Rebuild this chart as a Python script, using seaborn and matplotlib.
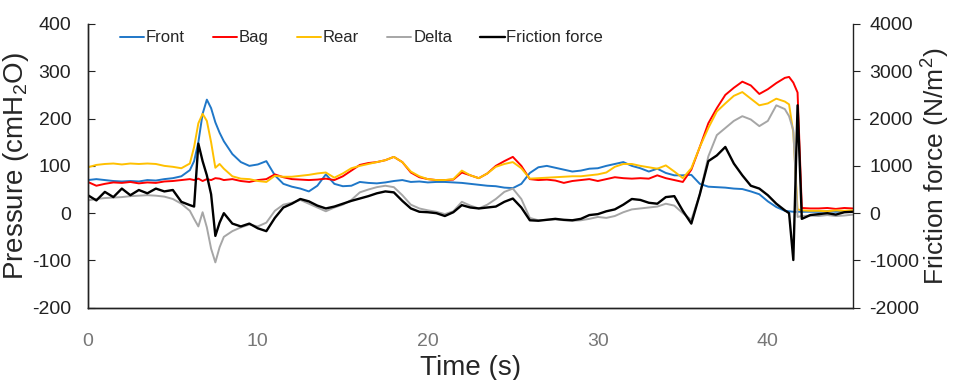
import numpy as np
import pandas as pd
import matplotlib
matplotlib.use("Agg")
import matplotlib.pyplot as plt
import seaborn as sns

# sample times (s)
time_s = list(np.r_[np.arange(0, 6.01, 0.5), np.arange(6.25, 7.8, 0.25),
                    np.arange(8, 41.01, 0.5), [41.25, 41.5, 41.75],
                    np.arange(42, 45.01, 0.5)])

front = [70, 72, 70, 68, 67, 68, 67, 70, 69, 72, 74, 78, 91,
         110, 150, 210, 240, 222, 192, 170,
         152, 125, 108, 100, 103, 110, 80, 62, 56, 52, 46, 58, 82, 62, 57, 58, 66, 64, 63, 65,
         68, 70, 66, 67, 65, 66, 66, 65, 64, 62, 60, 58, 57, 54, 53, 62, 85, 97, 100, 96,
         92, 88, 90, 94, 95, 100, 104, 108, 100, 95, 88, 94, 85, 80, 80, 81, 62, 56, 55, 54,
         52, 51, 46, 40, 25, 13, 5,
         4, 3, 3,
         3, 3, 3, 4, 3, 4, 5]

bag = [66, 58, 62, 65, 64, 66, 63, 65, 64, 67, 68, 70, 72,
       70, 73, 68, 72, 70, 74, 73,
       70, 72, 68, 66, 70, 72, 82, 76, 72, 71, 70, 71, 73, 70, 78, 90, 102, 106, 108, 112,
       119, 108, 86, 76, 72, 70, 70, 71, 86, 80, 74, 84, 100, 110, 119, 100, 72, 70, 71, 69,
       64, 68, 70, 72, 68, 72, 76, 74, 73, 74, 73, 80, 74, 70, 66, 92, 140, 190, 222, 250,
       265, 278, 270, 252, 262, 275, 286,
       288, 276, 255,
       11, 10, 10, 11, 9, 11, 10]

rear = [97, 102, 104, 105, 103, 105, 104, 105, 104, 100, 98, 95, 105,
        140, 190, 210, 195, 150, 96, 104,
        94, 78, 73, 72, 68, 66, 79, 77, 77, 79, 81, 84, 86, 75, 84, 95, 100, 104, 108, 112,
        119, 108, 88, 78, 72, 70, 70, 72, 90, 80, 74, 84, 98, 104, 108, 95, 73, 74, 75, 76,
        77, 78, 78, 80, 82, 86, 98, 104, 104, 100, 97, 94, 101, 88, 74, 95, 140, 180, 215, 232,
        248, 256, 242, 228, 232, 242, 236,
        230, 170, 8,
        6, 5, 5, 4, 6, 5, 6]

delta = [27, 30, 32, 33, 34, 36, 37, 38, 37, 35, 30, 20, 5,
         -12, -28, 2, -30, -75, -104, -72,
         -50, -38, -30, -24, -28, -20, 5, 18, 22, 28, 20, 12, 4, 12, 18, 28, 44, 50, 55, 58,
         55, 38, 18, 10, 6, 3, -2, 4, 24, 16, 10, 18, 30, 45, 52, 30, -10, -15, -14, -13,
         -15, -16, -15, -12, -8, -10, -6, 2, 8, 10, 12, 14, 20, 16, 0, -14, 40, 120, 165, 180,
         195, 205, 198, 184, 195, 228, 220,
         205, 175, -8,
         -6, -5, -6, -4, -6, -5, -3]

# friction force, N/m2
friction = [380, 270, 450, 340, 520, 380, 490, 420, 520, 460, 490, 240, 170,
            140, 1470, 1100, 800, 400, -480, -200,
            0, -220, -280, -220, -320, -380, -100, 120, 200, 300, 250, 160, 100, 140, 200, 260, 310, 360, 420, 460,
            440, 260, 100, 30, 20, 0, -60, 20, 170, 120, 100, 120, 140, 240, 310, 120, -150, -160, -140, -120,
            -140, -150, -120, -40, -20, 40, 80, 180, 300, 280, 220, 200, 340, 360, 50, -220, 400, 1100, 1220, 1400,
            1050, 800, 580, 520, 380, 200, 60,
            0, -990, 2280,
            -120, -40, -20, 0, -30, 20, 30]

series_names = ["Front", "Bag", "Rear", "Delta"]
colors = {"Front": "#1F77C8", "Bag": "#FF0000", "Rear": "#FFC000", "Delta": "#A6A6A6"}

sns.set_style("white")
plt.rcParams["font.family"] = ["Liberation Sans", "DejaVu Sans"]
plt.rcParams["mathtext.fontset"] = "custom"
plt.rcParams["mathtext.rm"] = "Liberation Sans"
plt.rcParams["mathtext.it"] = "Liberation Sans"
plt.rcParams["axes.unicode_minus"] = False

df = pd.DataFrame({"Time": time_s, "Front": front, "Bag": bag, "Rear": rear, "Delta": delta})
long_df = df.melt(id_vars="Time", value_vars=series_names, var_name="Series", value_name="Pressure")
fric_df = pd.DataFrame({"Time": time_s, "Friction": friction})

fig = plt.figure(figsize=(9.55, 3.8), dpi=100)
ax = fig.add_axes([0.092, 0.19, 0.801, 0.747])
sns.lineplot(data=long_df, x="Time", y="Pressure", hue="Series", hue_order=series_names,
             palette=colors, linewidth=1.4, ax=ax, legend=False)
ax2 = ax.twinx()
sns.lineplot(data=fric_df, x="Time", y="Friction", color="black", linewidth=1.7, ax=ax2)

ax.set_xlim(0, 45)
ax.set_ylim(-200, 400)
ax.set_yticks(range(-200, 401, 100))
ax.set_xticks([0, 10, 20, 30, 40])
ax2.set_ylim(-2000, 4000)
ax2.set_yticks(range(-2000, 4001, 1000))

ax.set_xlabel("Time (s)", fontsize=20, labelpad=4)
ax.set_ylabel("Pressure (cmH$_2$O)", fontsize=20)
ax2.set_ylabel("Friction force (N/m$^2$)", fontsize=19)
ax.yaxis.set_label_coords(-0.074, 0.5)
ax2.yaxis.set_label_coords(1.088, 0.5)

ax.tick_params(axis="y", direction="in", length=5, labelsize=14, colors="#222222", pad=12)
ax.tick_params(axis="x", direction="in", length=5, labelsize=14, labelcolor="#777777", pad=18)
ax2.tick_params(axis="y", direction="out", length=5, labelsize=14, colors="#222222", pad=7)

for a in (ax, ax2):
    a.spines["top"].set_visible(False)
    for s in ("left", "right", "bottom"):
        a.spines[s].set_color("#222222")
        a.spines[s].set_linewidth(1.0)
ax.spines["right"].set_visible(False)

handles = [plt.Line2D([], [], color=colors[n], lw=1.4) for n in series_names]
handles.append(plt.Line2D([], [], color="black", lw=1.7))
labels = series_names + ["Friction force"]
ax.legend(handles, labels, loc="upper left", bbox_to_anchor=(0.022, 1.03), ncol=5,
          frameon=False, fontsize=12, handlelength=1.45, handletextpad=0.1,
          columnspacing=1.7)

fig.savefig("out.png", dpi=100)
